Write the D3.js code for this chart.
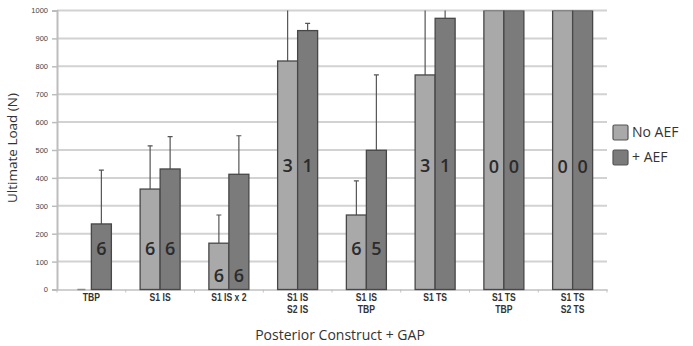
<!DOCTYPE html>
<html><head><meta charset="utf-8">
<script src="https://cdn.jsdelivr.net/npm/d3@7"></script>
<style>body{margin:0;background:#fff}svg{display:block}</style>
</head><body>
<script>
const categories = [["TBP"],["S1 IS"],["S1 IS x 2"],["S1 IS","S2 IS"],["S1 IS","TBP"],["S1 TS"],["S1 TS","TBP"],["S1 TS","S2 TS"]];
const seriesNames = ["No AEF","+ AEF"];
const noAEF = [0, 360, 166, 819, 267, 769, 1000, 1000];
const plusAEF = [235, 432, 413, 928, 499, 972, 1000, 1000];
const noAEFErr = [0, 515, 267, 1200, 389, 1200, 1000, 1000];
const plusAEFErr = [428, 548, 551, 954, 769, 1200, 1000, 1000];
const noAEFN = ["", "6", "6", "3", "6", "3", "0", "0"];
const plusAEFN = ["6", "6", "6", "1", "5", "1", "0", "0"];
const labelAt = [145, 145, 50, 445, 145, 445, 440, 440];
const yTicks = [0,100,200,300,400,500,600,700,800,900,1000];

const W=693,H=346, L=57, R=607, T=10.5, B=289.5;
const colors=["#a9a9a9","#7b7b7b"];
const svg=d3.select("body").append("svg").attr("width",W).attr("height",H);
const x=d3.scaleBand().domain(d3.range(categories.length)).range([L,R]).paddingInner(0).paddingOuter(0);
const y=d3.scaleLinear().domain([0,1000]).range([B,T]);
const bw=20;

// gridlines
svg.append("g").selectAll("line").data(yTicks.filter(d=>d>0)).join("line")
 .attr("x1",L).attr("x2",R).attr("y1",d=>y(d)).attr("y2",d=>y(d))
 .attr("stroke","#d2d2d2").attr("stroke-width",2);

// y axis
const ya=svg.append("g").attr("transform",`translate(${L},0)`).call(d3.axisLeft(y).tickValues(yTicks).tickFormat(d3.format("d")).tickSize(5).tickPadding(4));
ya.select(".domain").attr("stroke","#bdbdbd").attr("stroke-width",2);
ya.selectAll(".tick line").attr("stroke","#bdbdbd").attr("stroke-width",1.5);
ya.selectAll("text").attr("font-family","Liberation Sans, Arial, sans-serif").attr("font-size",7.5).attr("fill","#444");

// x axis baseline
const xa=svg.append("g").attr("transform",`translate(0,${B})`).call(d3.axisBottom(x).tickSize(0).tickFormat(""));
xa.select(".domain").attr("stroke","#c0c0c0").attr("stroke-width",1.5);
svg.append("g").selectAll("line").data(d3.range(categories.length+1)).join("line")
 .attr("x1",i=>L+i*x.step()).attr("x2",i=>L+i*x.step()).attr("y1",B).attr("y2",B+3)
 .attr("stroke","#c0c0c0").attr("stroke-width",1);

// category labels
const cl=svg.append("g").selectAll("text").data(categories).join("text")
 .attr("x",(d,i)=>x(i)+x.bandwidth()/2).attr("y",301)
 .attr("text-anchor","middle").attr("font-family","Liberation Sans, Arial, sans-serif")
 .attr("font-weight","bold").attr("font-size",10).attr("fill","#333")
 .attr("transform",(d,i)=>{const cx=x(i)+x.bandwidth()/2;return `translate(${cx},0) scale(0.86,1) translate(${-cx},0)`;});
cl.each(function(d){const t=d3.select(this);d.forEach((s,k)=>t.append("tspan").attr("x",t.attr("x")).attr("dy",k?12.5:0).text(s));});

const series=[{v:noAEF,e:noAEFErr,n:noAEFN,off:-bw},{v:plusAEF,e:plusAEFErr,n:plusAEFN,off:0}];
svg.append("clipPath").attr("id","pc").append("rect").attr("x",L).attr("y",T).attr("width",R-L).attr("height",B-T+2);
const gBars=svg.append("g").attr("clip-path","url(#pc)");
series.forEach((s,si)=>{
  const cx=i=>x(i)+x.bandwidth()/2+s.off;
  gBars.append("g").selectAll("g").data(d3.range(categories.length).filter(i=>s.e[i]>s.v[i])).join("g").each(function(i){
    const g=d3.select(this), xm=cx(i)+bw/2;
    g.append("line").attr("x1",xm).attr("x2",xm).attr("y1",y(s.v[i])).attr("y2",y(s.e[i])).attr("stroke","#555").attr("stroke-width",1.2);
    g.append("line").attr("x1",xm-2.5).attr("x2",xm+2.5).attr("y1",y(s.e[i])).attr("y2",y(s.e[i])).attr("stroke","#555").attr("stroke-width",1.2);
  });
  gBars.append("g").selectAll("rect").data(s.v).join("rect")
   .attr("x",(d,i)=>cx(i)).attr("y",d=>y(d)).attr("width",bw).attr("height",d=>Math.max(0,B-y(d)))
   .attr("fill",colors[si]).attr("stroke","#474747").attr("stroke-width",1.3);
  svg.append("g").selectAll("text").data(s.n).join("text")
   .attr("x",(d,i)=>cx(i)+bw/2).attr("y",(d,i)=>y(labelAt[i])).attr("dy","0.35em")
   .attr("text-anchor","middle").attr("font-family","Open Sans, DejaVu Sans, sans-serif").attr("font-weight",600).attr("font-size",18).attr("fill","#2b2b2b")
   .text(d=>d);
});
svg.append("line").attr("x1",x(0)+x.bandwidth()/2-bw*0.7).attr("x2",x(0)+x.bandwidth()/2-bw*0.3).attr("y1",y(noAEF[0])).attr("y2",y(noAEF[0])).attr("stroke","#888").attr("stroke-width",1.5);

// legend
const lg=svg.append("g").attr("transform","translate(613,125)");
seriesNames.forEach((n,i)=>{
  lg.append("rect").attr("x",0).attr("y",i*25).attr("width",15).attr("height",15).attr("fill",colors[i]).attr("stroke","#555").attr("stroke-width",1.2).attr("rx",1.5);
  lg.append("text").attr("x",19).attr("y",i*25+7.5).attr("dy","0.35em").attr("font-family","Open Sans, DejaVu Sans, sans-serif").attr("font-size",14).attr("fill","#333").text(n);
});

// axis titles
svg.append("text").attr("transform","translate(17,148) rotate(-90)").attr("text-anchor","middle")
 .attr("font-family","Open Sans, DejaVu Sans, sans-serif").attr("font-size",13.5).attr("fill","#333").text("Ultimate Load (N)");
svg.append("text").attr("x",340).attr("y",340).attr("text-anchor","middle")
 .attr("font-family","Open Sans, DejaVu Sans, sans-serif").attr("font-size",14).attr("fill","#333").text("Posterior Construct + GAP");
</script>
</body></html>
